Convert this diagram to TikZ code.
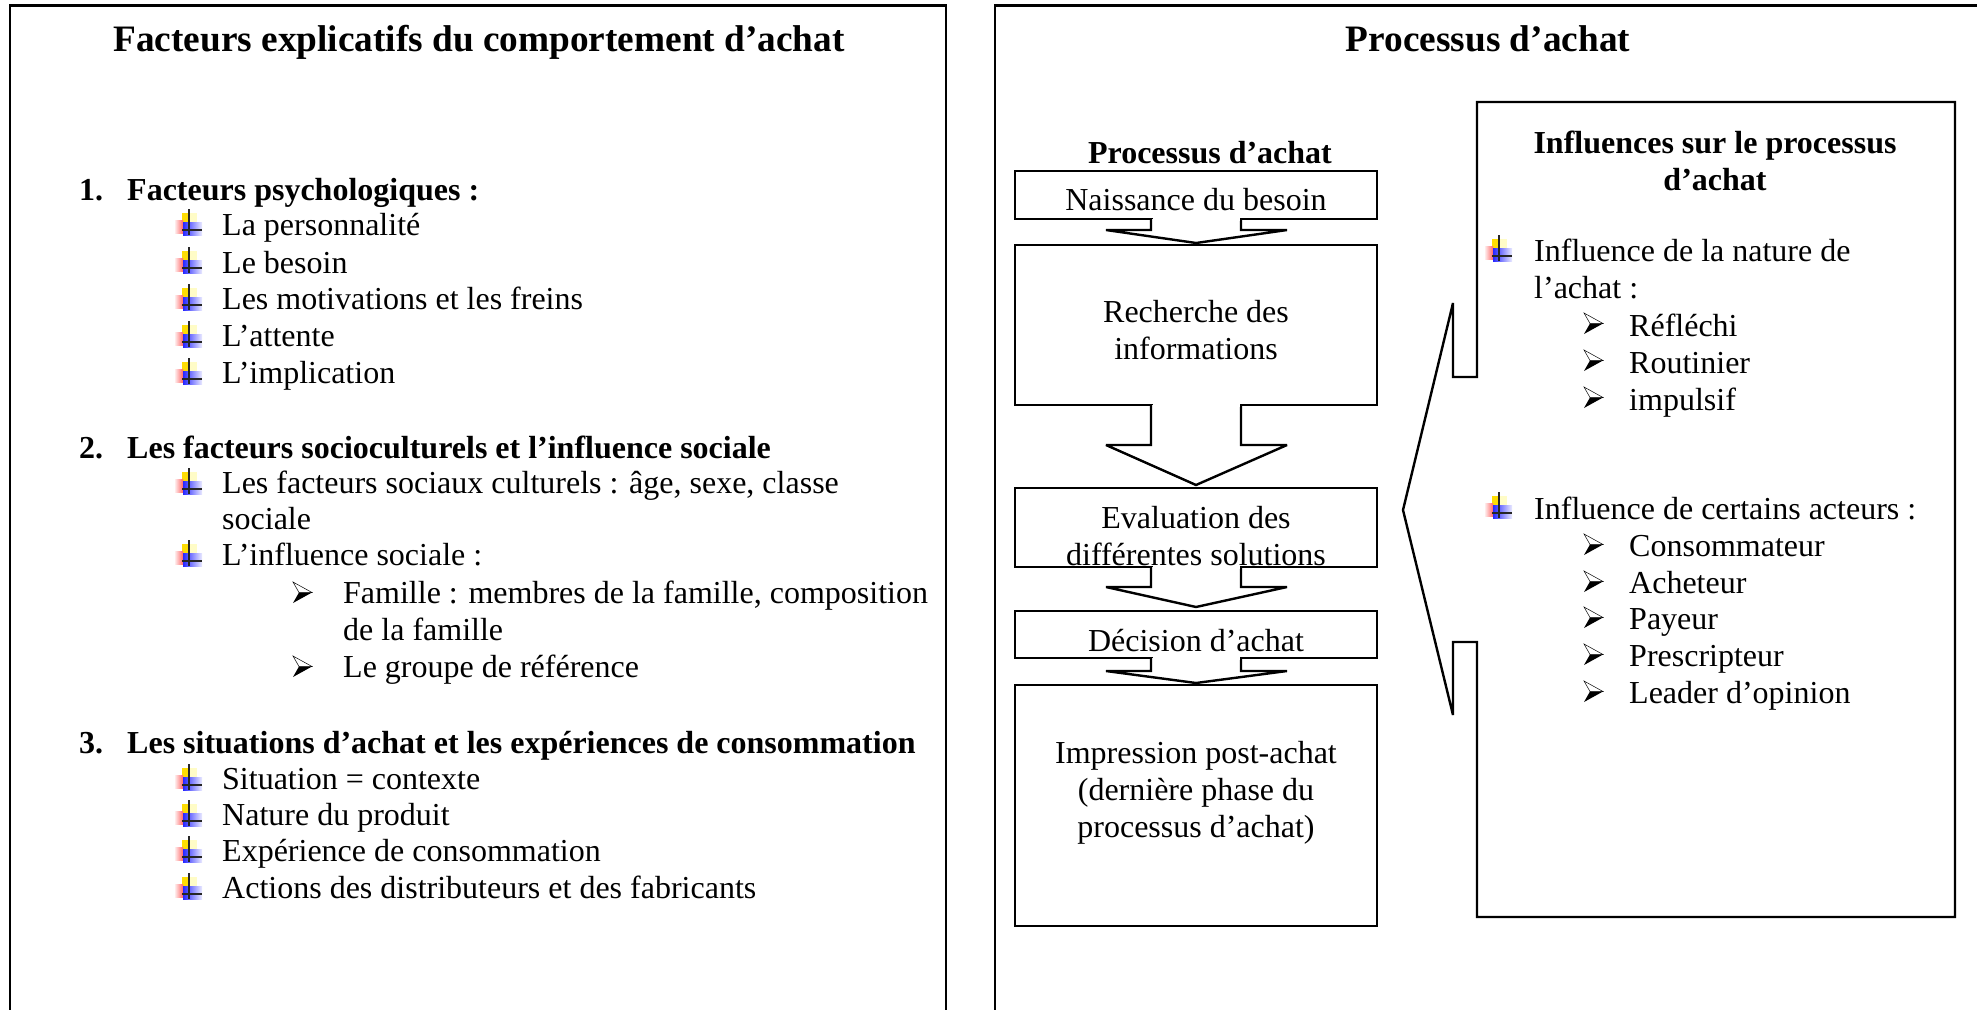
\documentclass[tikz,border=0pt]{standalone}
\usepackage{fontspec}
\setmainfont{Liberation Serif}
\tikzset{
  panel/.style={draw=black,line width=2.4pt,fill=none},
  flowbox/.style={draw=black,line width=2.4pt,fill=white,miter limit=2},
  txt/.style={anchor=base west,inner sep=0pt,font=\fontsize{32}{32}\selectfont},
  btxt/.style={anchor=base west,inner sep=0pt,font=\fontsize{32}{32}\selectfont\bfseries},
  ctxt/.style={anchor=base,inner sep=0pt,font=\fontsize{32}{32}\selectfont,align=center},
  bctxt/.style={anchor=base,inner sep=0pt,font=\fontsize{32}{32}\selectfont\bfseries},
  ttl/.style={anchor=base,inner sep=0pt,font=\fontsize{37.3}{37.3}\selectfont\bfseries},
  plusicon/.pic={
    \fill[yellow!80!orange] (-7,-20) rectangle (0,-11);
    \fill[yellow!22] (0,-20) rectangle (8,-11);
    \shade[left color=red!8,right color=red!60] (-14,-13) rectangle (-6,0);
    \shade[left color=blue!85,right color=blue!8] (-6,-11) rectangle (13,2);
    \draw[line width=1.3pt,black!85] (0,-24) -- (0,2);
    \draw[line width=1.3pt,black!85] (-7,-3) -- (13,-3);
  },
  arrowbul/.pic={
    \draw[line width=.5pt,fill=white] (0,-21) -- (19,-10.5) -- (6,-10.5) -- cycle;
    \fill[black] (0,0) -- (19,-10.5) -- (6,-10.5) -- cycle;
  }
}
\newcommand{\plusat}[2]{\pic at (#1,#2) {plusicon};}
\newcommand{\arrat}[2]{\pic at (#1,#2) {arrowbul};}
\begin{document}
\begin{tikzpicture}[x=1pt,y=-1pt]
\useasboundingbox (0,0) rectangle (1977,1009);
% panels
\draw[panel] (10,1020) -- (10,5.5) -- (946,5.5) -- (946,1020);
\draw[panel] (995,1020) -- (995,5.5) -- (1985,5.5);
% left
\node[ttl] (t1) at (479,51) {Facteurs explicatifs du comportement d’achat};
\node[btxt] (a1) at (79,200.5) {1.};
\node[btxt] (a1b) at (127,200.5) {Facteurs psychologiques :};
\plusat{189}{233}\node[txt] (l1) at (222,235.5) {La personnalité};
\plusat{189}{271}\node[txt] (l2) at (222,273.5) {Le besoin};
\plusat{189}{308}\node[txt] (l3) at (222,309.5) {Les motivations et les freins};
\plusat{189}{345}\node[txt] (l4) at (222,346.5) {L’attente};
\plusat{189}{382}\node[txt] (l5) at (222,383.5) {L’implication};
\node[btxt] (a2) at (79,458.5) {2.};
\node[btxt] (a2b) at (127,458.5) {Les facteurs socioculturels et l’influence sociale};
\plusat{189}{492}\node[txt] (m1) at (222,493.5) {Les facteurs sociaux culturels : âge, sexe, classe};
\node[txt] (m1b) at (222,529.5) {sociale};
\plusat{189}{564}\node[txt] (m2) at (222,565.5) {L’influence sociale :};
\arrat{293}{603}\node[txt] (m3) at (343,603.5) {Famille : membres de la famille, composition};
\node[txt] (m3b) at (343,640.5) {de la famille};
\arrat{293}{677}\node[txt] (m4) at (343,677.5) {Le groupe de référence};
\node[btxt] (a3) at (79,753.5) {3.};
\node[btxt] (a3b) at (127,753.5) {Les situations d’achat et les expériences de consommation};
\plusat{189}{788}\node[txt] (n1) at (222,789.5) {Situation = contexte};
\plusat{189}{824}\node[txt] (n2) at (222,825.5) {Nature du produit};
\plusat{189}{860}\node[txt] (n3) at (222,861.5) {Expérience de consommation};
\plusat{189}{897}\node[txt] (n4) at (222,898.5) {Actions des distributeurs et des fabricants};
% right
\node[ttl] (t2) at (1488,51) {Processus d’achat};
\node[bctxt] (p0) at (1210,163) {Processus d’achat};
\draw[flowbox] (1015,171) rectangle (1377,219);
\node[ctxt] (b1) at (1196,210) {Naissance du besoin};
\draw[flowbox] (1015,245) rectangle (1377,405);
\node[ctxt] (b2a) at (1196,322) {Recherche des};
\node[ctxt] (b2b) at (1196,359.5) {informations};
\draw[flowbox] (1015,488) rectangle (1377,567);
\node[ctxt] (b3a) at (1196,528) {Evaluation des};
\node[ctxt] (b3b) at (1196,565) {différentes solutions};
\draw[flowbox] (1015,611) rectangle (1377,658);
\node[ctxt] (b4) at (1196,651) {Décision d’achat};
\draw[flowbox] (1015,685) rectangle (1377,926);
\node[ctxt] (b5a) at (1196,763) {Impression post-achat};
\node[ctxt] (b5b) at (1196,800) {(dernière phase du};
\node[ctxt] (b5c) at (1196,837) {processus d’achat)};
% block arrows
\foreach \ya/\yb/\yc in {219/230/243,405/445/485,567/587/607,658/671/683}{
  \draw[flowbox] (1151,\ya) -- (1151,\yb) -- (1106,\yb) -- (1196,\yc) -- (1287,\yb) -- (1241,\yb) -- (1241,\ya);
  \fill[white] (1152.5,\ya-1.5) rectangle (1239.5,\ya+1.5);
}
% callout
\draw[flowbox] (1477,102) -- (1955,102) -- (1955,917) -- (1477,917) -- (1477,642) -- (1453,642) -- (1453,715) -- (1403,510) -- (1453,303) -- (1453,377) -- (1477,377) -- cycle;
\node[bctxt] (c1) at (1715,153.5) {Influences sur le processus};
\node[bctxt] (c2) at (1715,190.5) {d’achat};
\plusat{1499}{259}\node[txt] (d1) at (1534,261.5) {Influence de la nature de};
\node[txt] (d1b) at (1534,298) {l’achat :};
\arrat{1584}{334}\node[txt] (d2) at (1629,336) {Réfléchi};
\arrat{1584}{371}\node[txt] (d3) at (1629,373) {Routinier};
\arrat{1584}{408}\node[txt] (d4) at (1629,410) {impulsif};
\plusat{1499}{516}\node[txt] (e1) at (1534,519) {Influence de certains acteurs :};
\arrat{1584}{555}\node[txt] (e2) at (1629,556.5) {Consommateur};
\arrat{1584}{592}\node[txt] (e3) at (1629,593.5) {Acheteur};
\arrat{1584}{628}\node[txt] (e4) at (1629,629.5) {Payeur};
\arrat{1584}{665}\node[txt] (e5) at (1629,666.5) {Prescripteur};
\arrat{1584}{702}\node[txt] (e6) at (1629,703.5) {Leader d’opinion};
\end{tikzpicture}
\end{document}
